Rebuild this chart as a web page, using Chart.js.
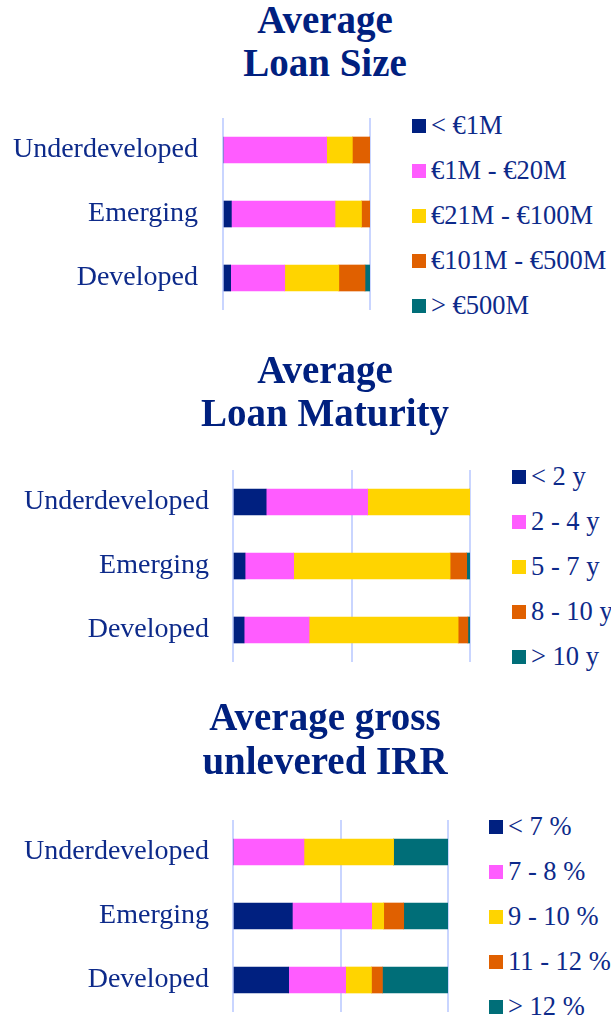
<!DOCTYPE html>
<html>
<head>
<meta charset="utf-8">
<script src="https://cdn.jsdelivr.net/npm/chart.js@4.4.1/dist/chart.umd.min.js"></script>
<style>
    body {
        margin: 0;
        width: 611px;
        height: 1018px;
        position: relative;
        overflow: hidden;
        background: #fff;
        font-family: "Liberation Serif", "Times New Roman", serif;
        color: #0d2a8a;
    }
    .ttl {
        position: absolute;
        left: 0;
        width: 650px;
        text-align: center;
        font-weight: bold;
        font-size: 39px;
        line-height: 43px;
        color: #00207f;
    }
    .cv { position: absolute; left: 0; }
    .lg { position: absolute; }
    .lg div {
        height: 45px;
        display: flex;
        align-items: center;
        font-size: 26.5px;
        line-height: 1;
        white-space: nowrap;
    }
    .lg span.sw {
        display: inline-block;
        width: 14px;
        height: 14px;
        margin-right: 5px;
        flex: none;
    }
</style>
</head>
<body>

<div class="ttl" style="top:-2px">Average<br>Loan Size</div>
<div class="cv" style="top:79px;width:375px;height:270px"><canvas id="c1"></canvas></div>
<div class="lg" id="lg1" style="left:412px;top:103px"></div>

<div class="ttl" style="top:348px">Average<br>Loan Maturity</div>
<div class="cv" style="top:432px;width:475px;height:268px"><canvas id="c2"></canvas></div>
<div class="lg" id="lg2" style="left:512px;top:454px"></div>

<div class="ttl" style="top:695px;line-height:44px">Average gross<br>unlevered IRR</div>
<div class="cv" style="top:782px;width:453px;height:268px"><canvas id="c3"></canvas></div>
<div class="lg" id="lg3" style="left:489px;top:804px"></div>

<script>
/* ---------- data ---------- */
const regions = ["Underdeveloped", "Emerging", "Developed"];

const colors = ["#002080", "#ff5cff", "#ffd400", "#e06000", "#006e78"];

// Average loan size (% of answers)
const sizeLabels = ["< €1M", "€1M - €20M", "€21M - €100M", "€101M - €500M", "> €500M"];
const sizeUnder = [0, 70.5, 17.5, 12, 0];
const sizeEmerg = [5.7, 70.5, 18, 5.8, 0];
const sizeDevel = [5.2, 36.8, 36.8, 17.8, 3.4];

// Average loan maturity
const matLabels = ["< 2 y", "2 - 4 y", "5 - 7 y", "8 - 10 y", "> 10 y"];
const matUnder = [14, 42.8, 43.2, 0, 0];
const matEmerg = [5.1, 20.5, 66, 7, 1.4];
const matDevel = [4.7, 27.4, 62.9, 4.1, 0.9];

// Average gross unlevered IRR
const irrLabels = ["< 7 %", "7 - 8 %", "9 - 10 %", "11 - 12 %", "> 12 %"];
const irrUnder = [0, 33, 41.7, 0, 25.3];
const irrEmerg = [27.6, 36.9, 5.6, 9.3, 20.6];
const irrDevel = [25.9, 26.5, 12, 5.1, 30.5];

/* ---------- helpers ---------- */
function buildSets(labels, rows) {
    return labels.map((lab, i) => ({
        label: lab,
        data: rows.map(r => r[i]),
        backgroundColor: colors[i],
        borderWidth: 0,
        barThickness: 26
    }));
}

function makeChart(id, labels, rows, step, legendId, axisW, pad) {
    const chart = new Chart(document.getElementById(id), {
        type: "bar",
        data: { labels: regions, datasets: buildSets(labels, rows) },
        options: {
            indexAxis: "y",
            responsive: true,
            maintainAspectRatio: false,
            animation: false,
            layout: { padding: { top: 0, bottom: 0, right: 5, left: 0 } },
            plugins: { legend: { display: false }, tooltip: { enabled: false } },
            scales: {
                x: {
                    stacked: true,
                    min: 0,
                    max: 100,
                    ticks: { display: false, stepSize: step },
                    border: { display: false },
                    grid: { color: "#c9d5ff", lineWidth: 2, drawTicks: false }
                },
                y: {
                    stacked: true,
                    border: { display: false },
                    grid: { display: false, drawTicks: false },
                    ticks: {
                        color: "#0d2a8a",
                        padding: pad,
                        font: { family: "'Liberation Serif', serif", size: 28, lineHeight: 1 }
                    },
                    afterFit: s => { s.width = axisW; }
                }
            }
        }
    });

    // html legend from the chart's own legend items
    const box = document.getElementById(legendId);
    Chart.defaults.plugins.legend.labels.generateLabels(chart).forEach(item => {
        const row = document.createElement("div");
        const sw = document.createElement("span");
        sw.className = "sw";
        sw.style.background = item.fillStyle;
        row.appendChild(sw);
        row.appendChild(document.createTextNode(item.text));
        box.appendChild(row);
    });
    return chart;
}

makeChart("c1", sizeLabels, [sizeUnder, sizeEmerg, sizeDevel], 100, "lg1", 223, 25);
makeChart("c2", matLabels, [matUnder, matEmerg, matDevel], 50, "lg2", 233, 24);
makeChart("c3", irrLabels, [irrUnder, irrEmerg, irrDevel], 50, "lg3", 233, 24);
</script>
</body>
</html>
